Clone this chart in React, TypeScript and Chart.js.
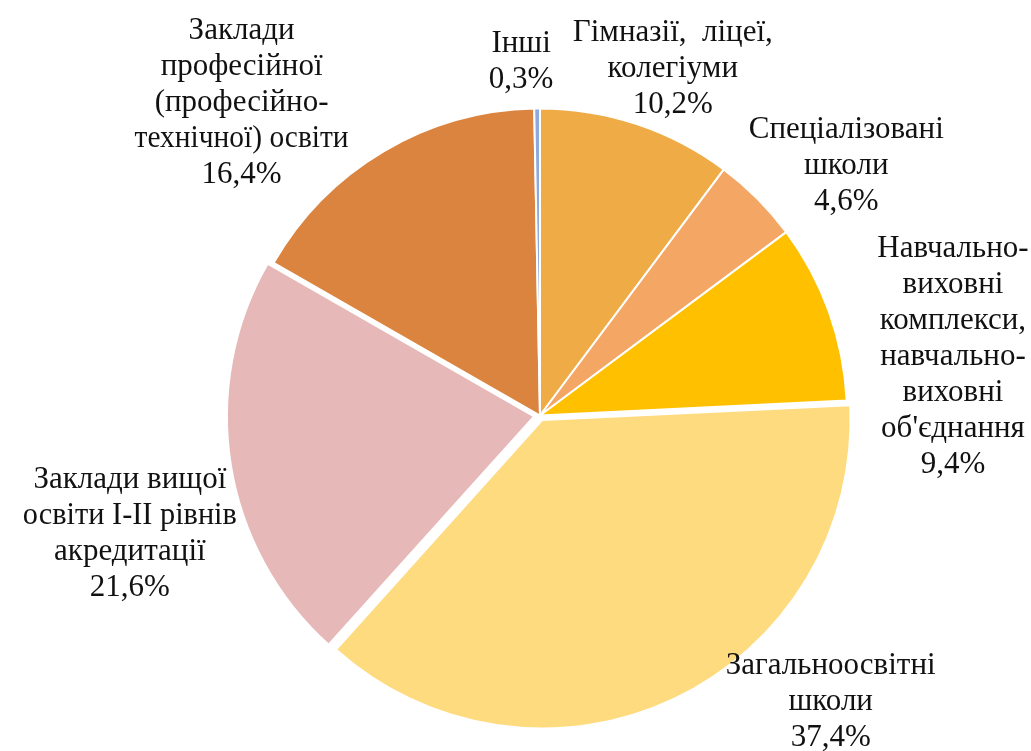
import { useEffect, useRef } from "react";
import { Chart, registerables } from "chart.js";

Chart.register(...registerables);

const categories = [
  "Гімназії, ліцеї, колегіуми",
  "Спеціалізовані школи",
  "Навчально-виховні комплекси, навчально-виховні об'єднання",
  "Загальноосвітні школи",
  "Заклади вищої освіти І-ІІ рівнів акредитації",
  "Заклади професійної (професійно-технічної) освіти",
  "Інші",
];

const labelLines = [
  ["Гімназії,  ліцеї,", "колегіуми"],
  ["Спеціалізовані", "школи"],
  ["Навчально-", "виховні", "комплекси,", "навчально-", "виховні", "об'єднання"],
  ["Загальноосвітні", "школи"],
  ["Заклади вищої", "освіти І-ІІ рівнів", "акредитації"],
  ["Заклади", "професійної", "(професійно-", "технічної) освіти"],
  ["Інші"],
];

const shares = [10.2, 4.6, 9.4, 37.4, 21.6, 16.4, 0.3];

const sliceColors = ["#EEAB46", "#F4A664", "#FFC000", "#FEDB7E", "#E6B8B7", "#DB843F", "#8EA9DB"];

const explodeOffsets = [0, 0, 0, 20, 24, 0, 0];

// label block centre relative to the slice's outer mid-point (layout only)
const labelNudges: [number, number][] = [
  [36, -57],
  [89, -35],
  [124, 43],
  [159, 7],
  [-107, 68],
  [-142, -50],
  [-16, -49],
];

const FONT_SIZE = 31;
const LINE_H = 36;
const MAX_LINE_W = 214;

const fmt = (v: number) => v.toFixed(1).replace(".", ",") + "%";

const labelPlugin = {
  id: "sliceLabels",
  afterDatasetsDraw(chart: any) {
    const ctx = chart.ctx;
    const meta = chart.getDatasetMeta(0);
    ctx.save();
    ctx.font = `${FONT_SIZE}px "Liberation Serif", "Times New Roman", serif`;
    ctx.fillStyle = "#111111";
    ctx.textAlign = "center";
    ctx.textBaseline = "alphabetic";
    meta.data.forEach((el: any, i: number) => {
      const p = el.getProps(["x", "y", "startAngle", "endAngle", "outerRadius"], true);
      const half = (p.startAngle + p.endAngle) / 2;
      const ax = p.x + Math.cos(half) * p.outerRadius;
      const ay = p.y + Math.sin(half) * p.outerRadius;
      const [dx, dy] = labelNudges[i];
      const cx = ax + dx;
      const cy = ay + dy;
      const lines = [...labelLines[i], fmt(shares[i])];
      const n = lines.length;
      lines.forEach((t, k) => {
        const by = cy + (k - (n - 1) / 2) * LINE_H + 10;
        ctx.fillText(t, cx, by, MAX_LINE_W);
      });
    });
    ctx.restore();
  },
};

export default function App() {
  const ref = useRef<HTMLCanvasElement | null>(null);
  useEffect(() => {
    if (!ref.current) return;
    const chart = new Chart(ref.current, {
      type: "pie",
      data: {
        labels: categories,
        datasets: [
          {
            data: shares,
            backgroundColor: sliceColors,
            borderColor: "#ffffff",
            borderWidth: 2,
            offset: explodeOffsets,
            radius: 307,
          } as any,
        ],
      },
      options: {
        responsive: false,
        animation: false,
        layout: { padding: { left: 49, top: 80, right: 0, bottom: 0 } },
        plugins: {
          legend: { display: false },
          tooltip: { enabled: false },
        },
      } as any,
      plugins: [labelPlugin],
    });
    return () => chart.destroy();
  }, []);
  return (
    <div style={{ position: "fixed", left: 0, top: 0, width: 1031, height: 751, background: "#fff" }}>
      <canvas ref={ref} width={1031} height={751} style={{ display: "block" }} />
    </div>
  );
}
